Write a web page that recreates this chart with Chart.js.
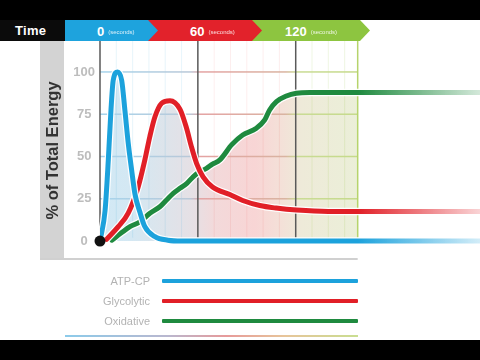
<!DOCTYPE html>
<html>
<head>
<meta charset="utf-8">
<script src="https://cdn.jsdelivr.net/npm/chart.js@4.4.0/dist/chart.umd.min.js"></script>
<style>
  html, body { margin: 0; padding: 0; background: #000; }
  #stage { position: relative; width: 480px; height: 360px; overflow: hidden; background: #000;
           font-family: "Liberation Sans", Arial, sans-serif; }
  #paper { position: absolute; left: 0; top: 20px; width: 480px; height: 320px; background: #fff; }
  #chart { position: absolute; left: 0; top: 0; }
  #header { position: absolute; left: 0; top: 20px; width: 480px; height: 21px; }
  .time { position: absolute; left: 0; top: 0; width: 65px; height: 21px; background: #0b0b0b; color: #fff;
          font-weight: bold; font-size: 13px; line-height: 21px; padding-left: 15px; box-sizing: border-box; letter-spacing: 0.3px; }
  .chev { position: absolute; top: 0; height: 21px; color: #fff; line-height: 21px; white-space: nowrap;
          clip-path: polygon(0 0, calc(100% - 10px) 0, 100% 50%, calc(100% - 10px) 100%, 0 100%); }
  .chev .lab { position: absolute; top: 0; }
  .chev .n { font-weight: bold; font-size: 13px; }
  .chev .u { font-size: 6px; margin-left: 4px; opacity: 0.85; vertical-align: 2px; }
  #legend { position: absolute; left: 0; top: 0; width: 480px; height: 360px; pointer-events: none; }
  .lrow { position: absolute; left: 0; height: 14px; }
  .lrow .name { position: absolute; left: 0; width: 150px; text-align: right; font-size: 11px; color: #b3b3b3; line-height: 14px; }
  .lrow .swatch { position: absolute; left: 162px; width: 196px; height: 4px; top: 5px; border-radius: 1px; }
  #rule { position: absolute; left: 65px; top: 335px; width: 293px; height: 2px;
          background: linear-gradient(to right, #8ccbea, #b9b7cf 35%, #e79a9a 55%, #e7c59a 75%, #c9de91); }
</style>
</head>
<body>
<div id="stage">
  <div id="paper"></div>
  <canvas id="chart" width="480" height="360"></canvas>
  <div id="header"></div>
  <div id="legend"></div>
  <div id="rule"></div>
</div>
<script>
// dados (tempo em segundos, % da energia total)
const timeTicks = [0, 60, 120];
const timeUnit = '(seconds)';
const yTicks = [0, 25, 50, 75, 100];
const seriesNames = ['ATP-CP', 'Glycolytic', 'Oxidative'];

const atpTime   = [0, 3.1, 5.1, 6.7, 8.1, 10.8, 13.3, 15.3, 17.3, 19.4, 21.4, 24.5, 27.5, 33.7, 41.6, 50, 235];
const atpEnergy = [0, 18, 48, 77, 95, 100, 95, 77, 58, 42, 28, 17, 8.5, 2.6, 0.5, 0, 0];

const glyTime   = [4, 11.2, 17.3, 23.4, 27.5, 30.6, 33.7, 37.8, 42.9, 49, 53, 56, 59.2, 63.2, 69, 79.6, 87.5, 98, 108, 120.6, 140, 235];
const glyEnergy = [1, 8.5, 16.5, 32, 48, 62, 73.5, 81.5, 83, 78, 67, 56, 46, 38, 32, 27.5, 24, 21, 19.5, 18.3, 17.5, 17.5];

const oxTime    = [7.2, 13.3, 18.4, 24.5, 30.6, 36.7, 40.8, 44.9, 49, 53.1, 57.1, 61.2, 65.3, 69, 73.5, 80.8, 87.5, 95.9, 101, 104, 108.2, 114.3, 120.4, 128.6, 235];
const oxEnergy  = [0.5, 5, 8.5, 11.4, 16.4, 20.3, 24.3, 28.2, 31.2, 34, 38, 41, 43, 45.5, 48, 57, 62.7, 66.7, 71.6, 77.5, 82.4, 85.8, 87.4, 87.8, 87.8];

// estilo
const seriesColors = ['#1ca2dc', '#e11f27', '#1f8a3f'];
const headerColors = ['#1ea3dd', '#e2222b', '#8dc540'];
const panelEnd = 158;      // borda verde do painel
const fontFamily = '"Liberation Sans", Arial, sans-serif';

function points(xs, ys) {
  return xs.map((x, i) => ({ x: x, y: ys[i] }));
}

function fadeStroke(hex) {
  return function(context) {
    const chart = context.chart;
    const x = chart.scales.x;
    if (!chart.chartArea || !x) return hex;
    const g = chart.ctx.createLinearGradient(x.getPixelForValue(panelEnd), 0, chart.chartArea.right + 15, 0);
    g.addColorStop(0, hex);
    g.addColorStop(1, hex + '18');
    return g;
  };
}

function areaFill(context) {
  const chart = context.chart;
  const x = chart.scales.x;
  if (!chart.chartArea || !x) return 'transparent';
  const x0 = x.getPixelForValue(0);
  const x1 = x.getPixelForValue(panelEnd);
  const g = chart.ctx.createLinearGradient(x0, 0, x1 + 1, 0);
  const k = (x1 - x0) / (x1 + 1 - x0);
  g.addColorStop(0, '#d2e9f5');
  g.addColorStop(0.12 * k, '#d4e8f3');
  g.addColorStop(0.25 * k, '#dde4eb');
  g.addColorStop(0.36 * k, '#e6e0e5');
  g.addColorStop(0.45 * k, '#f3d9da');
  g.addColorStop(0.6 * k, '#f8d5d5');
  g.addColorStop(0.7 * k, '#f4e0d8');
  g.addColorStop(0.78 * k, '#eeead9');
  g.addColorStop(k, '#ebefd8');
  g.addColorStop(1, 'rgba(255,255,255,0)');
  return g;
}

const backdrop = {
  id: 'backdrop',
  beforeDraw(chart) {
    const { ctx, chartArea: a, scales: { x } } = chart;
    ctx.save();
    ctx.fillStyle = '#d3d3d3';
    ctx.fillRect(40, a.top, 24, a.bottom - a.top);
    ctx.fillStyle = '#d0d0d0';
    ctx.fillRect(40, a.bottom - 2, x.getPixelForValue(panelEnd) - 40, 2);
    ctx.restore();
  },
  beforeDatasetsDraw(chart) {
    const { ctx, chartArea: a, scales: { x, y } } = chart;
    const left = x.getPixelForValue(0);
    const right = x.getPixelForValue(panelEnd);
    const floor = y.getPixelForValue(2);
    ctx.save();

    // linhas verticais fracas a cada 10 s
    for (let t = 10; t < panelEnd; t += 10) {
      if (t % 60 === 0) continue;
      const px = x.getPixelForValue(t);
      ctx.fillStyle = t < 60 ? 'rgba(30,160,220,0.10)' : t < 120 ? 'rgba(225,40,40,0.08)' : 'rgba(140,190,60,0.14)';
      ctx.fillRect(px - 0.5, a.top, 1, floor - a.top);
    }

    // linhas horizontais coloridas por seção
    const p60 = (x.getPixelForValue(60) - left) / (right - left);
    const p120 = (x.getPixelForValue(120) - left) / (right - left);
    const g = ctx.createLinearGradient(left, 0, right, 0);
    g.addColorStop(0, '#a6d4ec');
    g.addColorStop(p60 - 0.03, '#b9c8d8');
    g.addColorStop(p60 + 0.01, '#e4a3a3');
    g.addColorStop(p120 - 0.04, '#d9b3a0');
    g.addColorStop(p120, '#c9db94');
    g.addColorStop(1, '#c5da8a');
    ctx.fillStyle = g;
    yTicks.filter(v => v > 0).forEach(v => {
      const py = y.getPixelForValue(v);
      ctx.fillRect(left, py - 0.75, right - left, 1.5);
    });

    // linhas principais em 0, 60 e 120 s
    ctx.fillStyle = '#5a5a5a';
    timeTicks.forEach(t => {
      const px = x.getPixelForValue(t);
      ctx.fillRect(px - 0.75, a.top, 1.5, floor - a.top);
    });
    ctx.fillStyle = '#b6d46c';
    ctx.fillRect(right - 0.75, a.top, 1.5, floor - a.top);
    ctx.restore();
  },
  // contorno branco fino por baixo de cada curva
  beforeDatasetDraw(chart, args) {
    const line = args.meta.dataset;
    if (!line || args.index === 0) return;
    const ctx = chart.ctx;
    ctx.save();
    ctx.lineWidth = line.options.borderWidth + 2.5;
    ctx.strokeStyle = 'rgba(255,255,255,0.95)';
    ctx.lineJoin = 'round';
    ctx.lineCap = 'round';
    ctx.beginPath();
    line.path(ctx);
    ctx.stroke();
    ctx.restore();
  }
};

function renderHeader() {
  const box = document.getElementById('header');
  const chevrons = [
    { left: 65, width: 93, label: 32 },
    { left: 148, width: 114, label: 42 },
    { left: 252, width: 118, label: 33 }
  ];
  let html = '<div class="time">Time</div>';
  for (let i = chevrons.length - 1; i >= 0; i--) {
    const c = chevrons[i];
    html += `
      <div class="chev" style="left:${c.left}px;width:${c.width}px;background:${headerColors[i]};z-index:${3 - i}">
        <span class="lab" style="left:${c.label}px"><span class="n">${timeTicks[i]}</span><span class="u">${timeUnit}</span></span>
      </div>`;
  }
  box.innerHTML = html;
}

function renderLegend() {
  const box = document.getElementById('legend');
  const rows = [274, 294, 314];
  let html = '';
  seriesNames.forEach((name, i) => {
    html += `
      <div class="lrow" style="top:${rows[i]}px">
        <div class="name">${name}</div>
        <div class="swatch" style="background:${seriesColors[i]}"></div>
      </div>`;
  });
  box.innerHTML = html;
}

function lineDataset(i, xs, ys) {
  return {
    label: seriesNames[i],
    data: points(xs, ys),
    borderColor: fadeStroke(seriesColors[i]),
    backgroundColor: areaFill,
    borderWidth: 5,
    fill: 'origin',
    pointRadius: 0,
    cubicInterpolationMode: 'monotone',
    borderCapStyle: 'round',
    order: i + 1
  };
}

renderHeader();
renderLegend();

new Chart(document.getElementById('chart').getContext('2d'), {
  type: 'line',
  data: {
    datasets: [
      {
        label: 'start',
        data: [{ x: timeTicks[0], y: yTicks[0] }],
        showLine: false,
        pointRadius: 5.5,
        pointBackgroundColor: '#111',
        pointBorderWidth: 0,
        clip: false,
        order: 0
      },
      lineDataset(0, atpTime, atpEnergy),
      lineDataset(1, glyTime, glyEnergy),
      lineDataset(2, oxTime, oxEnergy)
    ]
  },
  options: {
    responsive: false,
    animation: false,
    layout: { autoPadding: false, padding: { left: 40, top: 41, right: 0, bottom: 100 } },
    plugins: {
      legend: { display: false },
      tooltip: { enabled: false },
      filler: { drawTime: 'beforeDatasetsDraw' }
    },
    scales: {
      x: { type: 'linear', display: false, min: 0, max: 233 },
      y: {
        min: -11.2,
        max: 118.3,
        afterBuildTicks: s => { s.ticks = yTicks.map(v => ({ value: v })); },
        afterFit: s => { s.width = 60; },
        grid: { display: false, drawTicks: false },
        border: { display: false },
        ticks: {
          color: '#bdbdbd',
          padding: 5,
          crossAlign: 'center',
          font: { family: fontFamily, size: 13, weight: 'bold' }
        },
        title: {
          display: true,
          text: '% of Total Energy',
          color: '#333',
          padding: { top: 4, bottom: 0 },
          font: { family: fontFamily, size: 16.5, weight: 'bold' }
        }
      }
    }
  },
  plugins: [backdrop]
});
</script>
</body>
</html>
